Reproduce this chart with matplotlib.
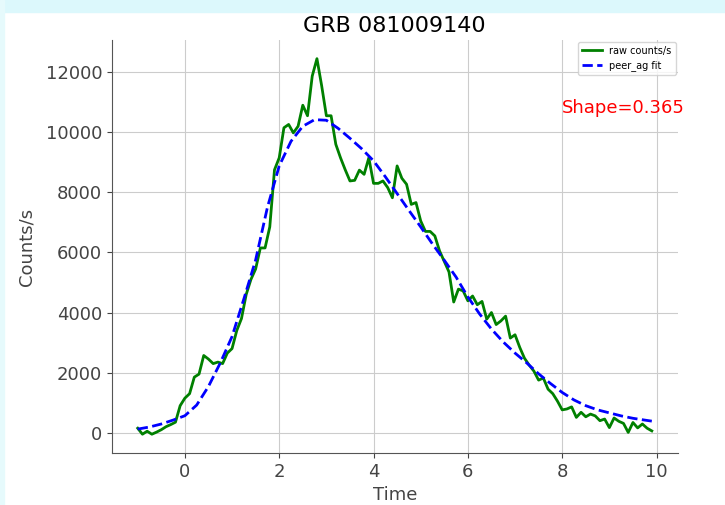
import matplotlib
matplotlib.use("Agg")
import matplotlib.pyplot as plt
from matplotlib.patches import Rectangle

# raw light curve, one point per 0.1 s from -1.0 to 9.9
t_start = -1.0
t_step = 0.1
raw_counts = [
    150, -50, 50, -50, 20, 100, 200, 270, 350, 900,
    1150, 1300, 1850, 1950, 2570, 2450, 2300, 2350, 2300, 2650,
    2800, 3400, 3800, 4600, 5100, 5450, 6150, 6150, 6850, 8750,
    9150, 10150, 10260, 9980, 10200, 10900, 10550, 11870, 12450, 11550,
    10550, 10550, 9600, 9150, 8750, 8380, 8400, 8740, 8600, 9150,
    8300, 8300, 8380, 8160, 7820, 8880, 8470, 8270, 7600, 7660,
    7050, 6700, 6700, 6550, 6050, 5700, 5350, 4350, 4780, 4720,
    4390, 4550, 4260, 4370, 3780, 4000, 3600, 3720, 3880, 3150,
    3260, 2840, 2480, 2250, 2050, 1750, 1820, 1450, 1300, 1050,
    760, 790, 860, 510, 680, 530, 620, 560, 400, 455,
    170, 490, 380, 310, 10, 340, 160, 290, 150, 60,
]
raw_time = [round(t_start + i * t_step, 1) for i in range(len(raw_counts))]

# peer_ag fit
fit_time = [-1.0, -0.75, -0.5, -0.25, 0.0, 0.25, 0.5, 0.75, 1.0, 1.25,
            1.5, 1.75, 2.0, 2.25, 2.5, 2.75, 3.0, 3.25, 3.5, 3.75,
            4.0, 4.25, 4.5, 4.75, 5.0, 5.25, 5.5, 5.75, 6.0, 6.25,
            6.5, 6.75, 7.0, 7.25, 7.5, 7.75, 8.0, 8.25, 8.5, 8.75,
            9.0, 9.25, 9.5, 9.75, 9.9]
fit_counts = [120, 190, 290, 420, 565, 920, 1540, 2320, 3200, 4450,
              5750, 7500, 8880, 9700, 10200, 10420, 10400, 10130, 9800, 9450,
              9050, 8520, 7960, 7400, 6850, 6280, 5740, 5180, 4520, 3950,
              3450, 3020, 2650, 2320, 1960, 1640, 1340, 1090, 900, 760,
              660, 560, 480, 420, 385]

grb_name = "GRB 081009140"
shape_val = 0.365

fig = plt.figure(figsize=(7.25, 5.05), dpi=100)
ax = fig.add_axes([0.1545, 0.103, 0.78, 0.818])

ax.plot(raw_time, raw_counts, color="green", lw=2, label="raw counts/s")
ax.plot(fit_time, fit_counts, "b--", lw=2, label="peer_ag fit")

ax.set_title(grb_name, fontsize=16)
ax.set_xlabel("Time", fontsize=13, color="#444444")
ax.set_ylabel("Counts/s", fontsize=13, color="#444444", labelpad=7)
ax.tick_params(labelsize=13, colors="#444444")
ax.grid(True, color="#cccccc", lw=0.8)
ax.spines["top"].set_visible(False)
ax.spines["right"].set_visible(False)
for s in ("left", "bottom"):
    ax.spines[s].set_color("#555555")

ax.text(8, 10800, "Shape=%.3f" % shape_val, color="red", fontsize=13, va="center")
ax.legend(loc="upper right", fontsize=7, borderaxespad=0.2)

# notebook background strips of the screenshot
fig.add_artist(Rectangle((0, 1 - 12 / 505), 1, 12 / 505, transform=fig.transFigure,
                         color="#dcf8fc", zorder=-1))
fig.add_artist(Rectangle((0, 0), 4 / 725, 1, transform=fig.transFigure,
                         color="#e6fafc", zorder=-1))

fig.savefig("out.png", dpi=100)
